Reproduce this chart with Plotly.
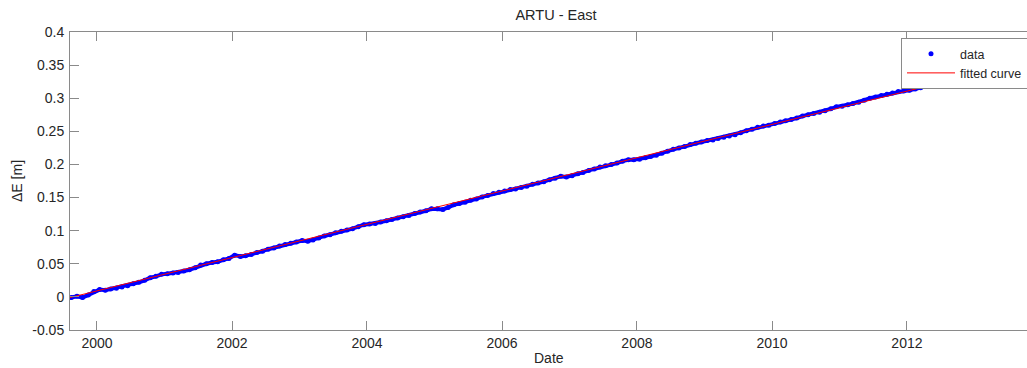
import pandas as pd
import plotly.graph_objects as go

# Monthly ARTU east-component positions (metres), Aug 1999 - Dec 2013
dates = pd.date_range("1999-08-01", periods=173, freq="MS") + pd.Timedelta(days=14)

east_m = [
    # 1999 Aug-Dec
    -0.001, 0.001, -0.001, 0.003, 0.008,
    # 2000
    0.011, 0.010, 0.012, 0.013, 0.015, 0.017, 0.020, 0.022, 0.025, 0.029, 0.031, 0.034,
    # 2001
    0.035, 0.036, 0.037, 0.039, 0.041, 0.044, 0.048, 0.050, 0.052, 0.053, 0.056, 0.058,
    # 2002
    0.063, 0.061, 0.062, 0.064, 0.067, 0.069, 0.072, 0.074, 0.077, 0.079, 0.081, 0.083,
    # 2003
    0.085, 0.084, 0.086, 0.089, 0.092, 0.094, 0.097, 0.099, 0.101, 0.103, 0.106, 0.109,
    # 2004
    0.110, 0.111, 0.113, 0.115, 0.117, 0.119, 0.121, 0.123, 0.126, 0.128, 0.130, 0.133,
    # 2005
    0.133, 0.132, 0.135, 0.139, 0.141, 0.143, 0.146, 0.148, 0.151, 0.153, 0.156, 0.158,
    # 2006
    0.160, 0.162, 0.163, 0.165, 0.167, 0.170, 0.172, 0.174, 0.177, 0.179, 0.182, 0.181,
    # 2007
    0.183, 0.186, 0.188, 0.191, 0.193, 0.196, 0.198, 0.200, 0.202, 0.205, 0.207, 0.207,
    # 2008
    0.208, 0.210, 0.212, 0.214, 0.217, 0.220, 0.223, 0.225, 0.227, 0.230, 0.232, 0.234,
    # 2009
    0.236, 0.237, 0.239, 0.241, 0.243, 0.245, 0.248, 0.251, 0.253, 0.256, 0.258, 0.259,
    # 2010
    0.262, 0.264, 0.266, 0.268, 0.270, 0.273, 0.275, 0.277, 0.279, 0.281, 0.284, 0.287,
    # 2011
    0.288, 0.290, 0.292, 0.294, 0.297, 0.300, 0.302, 0.304, 0.306, 0.308, 0.310, 0.311,
    # 2012
    0.312, 0.314, 0.316, 0.318, 0.320, 0.322, 0.324, 0.326, 0.328, 0.330, 0.332, 0.335,
    # 2013
    0.337, 0.339, 0.341, 0.343, 0.345, 0.347, 0.349, 0.351, 0.353, 0.355, 0.357, 0.359,
]

# Linear velocity fit, end points
fit_dates = ["1999-08-08", "2014-01-01"]
fit_east_m = [-0.001, 0.361]

y_ticks = [-0.05, 0, 0.05, 0.1, 0.15, 0.2, 0.25, 0.3, 0.35, 0.4]
y_labels = ["-0.05", "0", "0.05", "0.1", "0.15", "0.2", "0.25", "0.3", "0.35", "0.4"]

FONT = "Liberation Sans, Arial, Helvetica, sans-serif"
TEXT = "#262626"
AXIS = "#8a8a8a"

fig = go.Figure()

# dense band under the daily-looking dots
fig.add_trace(go.Scatter(
    x=dates, y=east_m, mode="lines",
    line=dict(color="rgb(0,0,255)", width=4),
    showlegend=False, hoverinfo="skip",
))
fig.add_trace(go.Scatter(
    x=dates, y=east_m, mode="markers", name="data",
    marker=dict(color="rgb(0,0,255)", size=5),
))
fig.add_trace(go.Scatter(
    x=fit_dates, y=fit_east_m, mode="lines", name="fitted curve",
    line=dict(color="rgb(255,0,0)", width=1),
))

axis_common = dict(
    showline=True, linecolor=AXIS, linewidth=1,
    ticks="inside", ticklen=9, tickcolor=AXIS, tickwidth=1,
    mirror="ticks", showgrid=False, zeroline=False,
    tickfont=dict(family=FONT, size=14, color=TEXT),
)

fig.update_layout(
    width=1045, height=368,
    margin=dict(l=70, r=3, t=32, b=38, autoexpand=False),
    paper_bgcolor="white", plot_bgcolor="white",
    font=dict(family=FONT, size=14, color=TEXT),
    title=dict(
        text="ARTU - East", font=dict(family=FONT, size=14.5, color=TEXT),
        xref="paper", x=0.5, xanchor="center",
        yref="container", y=1 - 15 / 368, yanchor="middle",
    ),
    xaxis=dict(
        type="date", range=["1999-08-08", "2014-01-01"],
        tick0="2000-01-01", dtick="M24", tickformat="%Y",
        ticklabelstandoff=0,
        **axis_common,
    ),
    yaxis=dict(
        range=[-0.05, 0.4], tickvals=y_ticks, ticktext=y_labels,
        ticklabelstandoff=2,
        **axis_common,
    ),
    legend=dict(
        x=(901 - 70) / 972, y=(330 - 38) / 298, xanchor="left", yanchor="top",
        bgcolor="white", bordercolor=AXIS, borderwidth=1,
        font=dict(family=FONT, size=12.5, color=TEXT),
        tracegroupgap=0, itemwidth=48,
    ),
    annotations=[
        dict(text="ΔE [m]", xref="paper", yref="paper",
             x=(17 - 70) / 972, y=0.5, xanchor="center", yanchor="middle",
             textangle=-90, showarrow=False,
             font=dict(family=FONT, size=14, color=TEXT)),
        dict(text="Date", xref="paper", yref="paper",
             x=(549 - 70) / 972, y=(330 - 358) / 298,
             xanchor="center", yanchor="middle", showarrow=False,
             font=dict(family=FONT, size=14, color=TEXT)),
    ],
)

# the plot is wider than the window; keep the page from scrolling
fig.write_html(
    "out.html",
    post_script="document.documentElement.style.overflow='hidden';"
                "document.body.style.overflow='hidden';",
)
